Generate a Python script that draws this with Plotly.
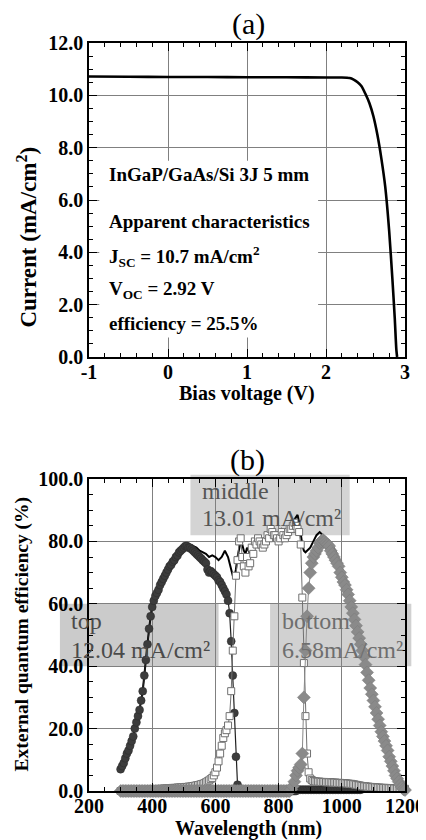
import plotly.graph_objects as go

# ---------------- Panel (a): J-V curve ----------------
bias_voltage = [-1.0, -0.5, 0.0, 0.5, 1.0, 1.5, 2.0, 2.2, 2.3, 2.35, 2.4, 2.45, 2.5,
                2.55, 2.6, 2.65, 2.7, 2.75, 2.8, 2.84, 2.87, 2.89, 2.9]
current = [10.72, 10.71, 10.70, 10.70, 10.69, 10.69, 10.68, 10.68, 10.66, 10.6, 10.5, 10.35, 10.05,
           9.7, 9.2, 8.5, 7.6, 6.5, 4.8, 3.0, 1.5, 0.3, 0.0]
a_xtick_vals = [-1, 0, 1, 2, 3]
a_xtick_text = ["-1", "0", "1", "2", "3"]
a_text_lines = ["InGaP/GaAs/Si 3J 5 mm", "Apparent characteristics",
                "J<sub>SC</sub> = 10.7 mA/cm<sup>2</sup>", "V<sub>OC</sub> = 2.92 V",
                "efficiency = 25.5%"]
a_text_y = [6.96, 5.18, 3.84, 2.56, 1.28]

# ---------------- Panel (b): EQE ----------------
wl_top = list(range(300, 1061, 5))
eqe_top = [
    7, 8, 9, 10.5, 12, 13, 14.5, 16, 17.5, 20,
    22, 24, 26, 29, 32, 37, 42, 47, 52, 56,
    59, 61, 62.5, 63.5, 64.5, 66, 67, 68, 69, 70,
    71, 72, 72.5, 73.5, 74, 75, 75.5, 76.5, 77, 77.5,
    78, 78.5, 78.5, 78, 78, 77.5, 77, 76.5, 76, 75.5,
    75, 74.5, 74, 73.5, 73, 71, 70, 70.5, 70, 69.5,
    69, 68.5, 67.5, 67, 66, 65, 64, 63, 61, 57,
    48, 37, 25, 11, 2, 0.5,
    0, 0, 0, 0, 0, 0, 0, 0, 0, 0, 0, 0, 0, 0, 0, 0, 0, 0,
    0, 0, 0, 0, 0, 0, 0, 0, 0, 0, 0, 0, 0, 0, 0, 0, 0, 0,
    0.4, 0.4, 0.4, 0.4, 0.4, 0.4, 0.4, 0.4, 0.4, 0.4, 0.4, 0.4, 0.4, 0.4,
    0.4, 0.4, 0.4, 0.4, 0.4, 0.4, 0.4, 0.4, 0.4, 0.4, 0.4, 0.4, 0.4, 0.4,
    0.4, 0.4, 0.4, 0.4, 0.4, 0.4, 0.4, 0.4, 0.4, 0.4, 0.4, 0.4, 0.4,
]

wl_mid = list(range(300, 1201, 5))
eqe_mid = [
    0, 0, 0, 0, 0, 0, 0, 0, 0, 0, 0, 0, 0, 0, 0,
    0.2, 0.3, 0.3, 0.4, 0.4, 0.5, 0.5, 0.6, 0.6, 0.6,
    0.7, 0.7, 0.7, 0.8, 0.8, 0.8, 0.9, 0.9, 1.0, 1.0,
    1.0, 1.1, 1.1, 1.2, 1.2, 1.2, 1.3, 1.3, 1.4, 1.4,
    1.5, 1.6, 1.7, 1.8, 1.9, 2.0, 2.2, 2.3, 2.5, 2.8,
    3.1, 3.4, 3.8, 4.2, 5.0, 6.0, 7.5, 9.5, 12, 14.5,
    17, 18.5, 19.5, 21, 24, 32, 45, 56, 69, 74,
    80, 81, 75, 72, 70, 75, 72, 73, 78, 76,
    80, 79, 81, 80, 79, 78, 79, 80, 82, 81,
    84, 83, 82, 82, 81, 80, 81, 83, 82, 81,
    82, 83, 84, 84, 85, 86, 85, 84, 83, 79,
    62, 41, 24, 12, 6, 4, 3.5, 3.2, 3.1, 3.0,
    3.0, 3.0, 2.9, 2.9, 2.9, 2.8, 2.8, 2.8, 2.8, 2.7,
    2.7, 2.7, 2.6, 2.6, 2.6, 2.5, 2.5, 2.5, 2.4, 2.4,
    2.3, 2.3, 2.2, 2.1, 2.0, 1.9, 1.8, 1.7, 1.6, 1.5,
    1.5, 1.4, 1.4, 1.3, 1.3, 1.2, 1.2, 1.1, 1.1, 1.1,
    1.0, 1.0, 1.0, 1.0, 0.9, 0.9, 0.9, 0.9, 0.8, 0.8,
    0.8, 0.8, 0.7, 0.7, 0.7, 0.7,
]

wl_bot = list(range(300, 1201, 5))
eqe_bot = [
    0, 0, 0, 0, 0, 0, 0, 0, 0, 0, 0, 0, 0, 0, 0, 0, 0, 0,
    0, 0, 0, 0, 0, 0, 0, 0, 0, 0, 0, 0, 0, 0, 0, 0, 0, 0,
    0, 0, 0, 0, 0, 0, 0, 0, 0, 0, 0, 0, 0, 0, 0, 0, 0, 0,
    0, 0, 0, 0, 0, 0, 0, 0, 0, 0, 0, 0, 0, 0, 0, 0, 0, 0,
    0, 0, 0, 0, 0, 0, 0, 0, 0, 0, 0, 0, 0, 0, 0, 0, 0, 0,
    0, 0, 0, 0, 0, 0, 0, 0, 0, 0, 0, 0, 0, 0, 0, 0, 0, 0,
    0.5, 1.5, 3, 5, 6.5, 7.5, 8.5, 12, 30, 45,
    56, 65, 70, 73, 75, 76, 77, 78, 79.5, 80,
    80.5, 80, 79.5, 79, 78.5, 77, 76, 75, 74, 73,
    72, 70, 68.5, 67, 66, 64.5, 63, 61, 59, 57,
    55, 53, 51, 49, 47, 45, 43, 40.5, 38, 35.5,
    33, 31, 29, 27, 25, 23, 21, 19, 17.5, 16,
    14.5, 13, 11, 9.5, 8, 6.5, 5, 4, 3, 2,
    1.2, 0.6, 0.3,
]

wl_total = [300, 310, 320, 330, 340, 350, 360, 370, 380, 390,
            400, 410, 420, 430, 440, 450, 460, 470, 480, 490,
            500, 510, 520, 530, 540, 550, 560, 570, 580, 590,
            600, 610, 620, 630, 640, 650,
            655, 660, 665, 670, 675, 680, 685, 690, 695, 700,
            710, 720, 730, 740, 750, 760, 770, 780, 790, 800, 810, 820, 830, 840, 850,
            855, 860, 865, 870, 875, 880, 885, 890,
            900, 910, 920, 930, 940, 950, 960, 970, 980,
            1000, 1020, 1040, 1060, 1080, 1100, 1120, 1140, 1160, 1180, 1200]
eqe_total = [7, 9, 12, 14.5, 17.5, 22, 26, 32, 42, 52,
             59.5, 63, 65, 67.5, 69.5, 71.5, 73, 75, 76.5, 78,
             79, 79.5, 79, 78.5, 78, 77, 76.5, 76, 75, 75.5,
             75, 74, 75, 77, 75, 71,
             69, 68.5, 71, 75, 78, 80, 79, 77, 76, 78,
             76, 78, 80, 81, 80, 82, 83, 84, 83, 83, 84, 83, 84, 85, 87,
             88, 88.5, 86, 82, 79, 77, 76.5, 77,
             78, 80, 82, 83, 82, 81, 80, 78.5, 77,
             71.5, 65.5, 57.5, 49, 40, 30.5, 22.5, 15.5, 9, 3.8, 1]

FONT = "Liberation Serif"

fig = go.Figure()

# Panel (a)
fig.add_trace(go.Scatter(x=bias_voltage, y=current, mode="lines",
                         line=dict(color="black", width=2.6, shape="spline", smoothing=0.6),
                         xaxis="x", yaxis="y", showlegend=False))

# Panel (b)
fig.add_trace(go.Scatter(x=wl_total, y=eqe_total, mode="lines",
                         line=dict(color="black", width=2),
                         xaxis="x2", yaxis="y2", showlegend=False, cliponaxis=False))
fig.add_trace(go.Scatter(x=wl_top, y=eqe_top, mode="lines+markers",
                         line=dict(color="#202020", width=1.2),
                         marker=dict(symbol="circle", size=8, color="#3c3c3c",
                                     line=dict(color="#2a2a2a", width=0.5)),
                         xaxis="x2", yaxis="y2", showlegend=False, cliponaxis=False))
fig.add_trace(go.Scatter(x=wl_mid, y=eqe_mid, mode="lines+markers",
                         line=dict(color="#707070", width=1),
                         marker=dict(symbol="square", size=7, color="white",
                                     line=dict(color="#707070", width=1)),
                         xaxis="x2", yaxis="y2", showlegend=False, cliponaxis=False))
fig.add_trace(go.Scatter(x=wl_bot, y=eqe_bot, mode="lines+markers",
                         line=dict(color="#888888", width=1),
                         marker=dict(symbol="diamond", size=10, color="#8a8a8a",
                                     line=dict(color="#7a7a7a", width=0.5)),
                         xaxis="x2", yaxis="y2", showlegend=False, cliponaxis=False))

axis_common = dict(showline=True, linecolor="black", linewidth=1.5, mirror="ticks",
                   ticks="inside", ticklen=8, tickwidth=1.2, tickcolor="black",
                   showgrid=True, gridcolor="#808080", gridwidth=1, zeroline=False,
                   automargin=False,
                   tickfont=dict(family=FONT, size=20, color="black", weight="bold"))

# page has an 8px body margin, so the figure is 8px smaller than the window
fig.update_layout(
    width=418, height=832,
    margin=dict(l=81, r=21, t=35, b=49, autoexpand=False),
    paper_bgcolor="white", plot_bgcolor="white",
    xaxis=dict(domain=[0, 1], anchor="y", range=[-1, 3],
               tickvals=a_xtick_vals, ticktext=a_xtick_text, ticklabelstandoff=-4,
               minor=dict(ticks="inside", ticklen=4, tickwidth=1, dtick=0.2, tick0=-1,
                          showgrid=False, tickcolor="black"),
               **axis_common),
    yaxis=dict(domain=[0.5802, 1], anchor="x", range=[0, 12], dtick=2, tick0=0,
               tickformat=".1f",
               minor=dict(ticks="inside", ticklen=4, tickwidth=1, dtick=0.5,
                          showgrid=False, tickcolor="black"),
               **axis_common),
    xaxis2=dict(domain=[0, 1], anchor="y2", range=[200, 1200], dtick=200, tick0=200,
                ticklabelstandoff=-4,
                minor=dict(ticks="inside", ticklen=4, tickwidth=1, dtick=50,
                           showgrid=False, tickcolor="black"),
                **axis_common),
    yaxis2=dict(domain=[0, 0.4171], anchor="x2", range=[0, 100], dtick=20, tick0=0,
                tickformat=".1f",
                minor=dict(ticks="inside", ticklen=4, tickwidth=1, dtick=5,
                           showgrid=False, tickcolor="black"),
                **axis_common),
)

# white area behind panel (a) text
fig.add_shape(type="rect", xref="x", yref="y", x0=-0.87, x1=1.9, y0=0.75, y1=7.5,
              fillcolor="white", line=dict(width=0), layer="between")

# gray label boxes in panel (b)
box_specs = [(-0.092, 0.41, 0.40, 0.60, "#cbcbcb"),
             (0.321, 0.825, 0.82, 1.014, "#d4d4d4"),
             (0.573, 1.02, 0.40, 0.60, "#d1d1d1")]
for x0, x1, y0, y1, col in box_specs:
    fig.add_shape(type="rect", xref="x2 domain", yref="y2 domain", x0=x0, x1=x1, y0=y0, y1=y1,
                  fillcolor=col, line=dict(width=0), layer="below")

annotations = []
# panel titles
annotations.append(dict(text="(a)", xref="paper", yref="paper", x=0.506, y=1.0254,
                        xanchor="center", yanchor="middle", showarrow=False,
                        font=dict(family=FONT, size=30, color="black")))
annotations.append(dict(text="(b)", xref="paper", yref="paper", x=0.503, y=0.4425,
                        xanchor="center", yanchor="middle", showarrow=False,
                        font=dict(family=FONT, size=30, color="black")))
# axis titles
annotations.append(dict(text="Bias voltage (V)", xref="paper", yref="paper", x=0.5, y=0.531,
                        xanchor="center", yanchor="middle", showarrow=False,
                        font=dict(family=FONT, size=20, color="black", weight="bold")))
annotations.append(dict(text="Current (mA/cm<sup>2</sup>)", xref="paper", yref="paper",
                        x=-0.196, y=0.74, textangle=-90,
                        xanchor="center", yanchor="middle", showarrow=False,
                        font=dict(family=FONT, size=23, color="black", weight="bold")))
annotations.append(dict(text="Wavelength (nm)", xref="paper", yref="paper", x=0.505, y=-0.0505,
                        xanchor="center", yanchor="middle", showarrow=False,
                        font=dict(family=FONT, size=20, color="black", weight="bold")))
annotations.append(dict(text="External quantum efficiency (%)", xref="paper", yref="paper",
                        x=-0.212, y=0.2092, textangle=-90,
                        xanchor="center", yanchor="middle", showarrow=False,
                        font=dict(family=FONT, size=19.5, color="black", weight="bold")))
# panel (a) text
for txt, yv in zip(a_text_lines, a_text_y):
    annotations.append(dict(text=txt, xref="x", yref="y", x=-0.77, y=yv,
                            xanchor="left", yanchor="middle", showarrow=False,
                            font=dict(family=FONT, size=19, color="black", weight="bold")))
# panel (b) box labels
box_labels = [("middle", 0.352, 0.96, "#555555"), ("13.01 mA/cm²", 0.352, 0.876, "#555555"),
              ("top", -0.064, 0.544, "#4a4a4a"), ("12.04 mA/cm²", -0.064, 0.452, "#4a4a4a"),
              ("bottom", 0.604, 0.544, "#6e6e6e"), ("6.58mA/cm²", 0.604, 0.452, "#6e6e6e")]
for txt, xv, yv, col in box_labels:
    annotations.append(dict(text=txt, xref="x2 domain", yref="y2 domain", x=xv, y=yv,
                            xanchor="left", yanchor="middle", showarrow=False,
                            font=dict(family=FONT, size=24, color=col)))

fig.update_layout(annotations=annotations)

fig.write_html("out.html")
